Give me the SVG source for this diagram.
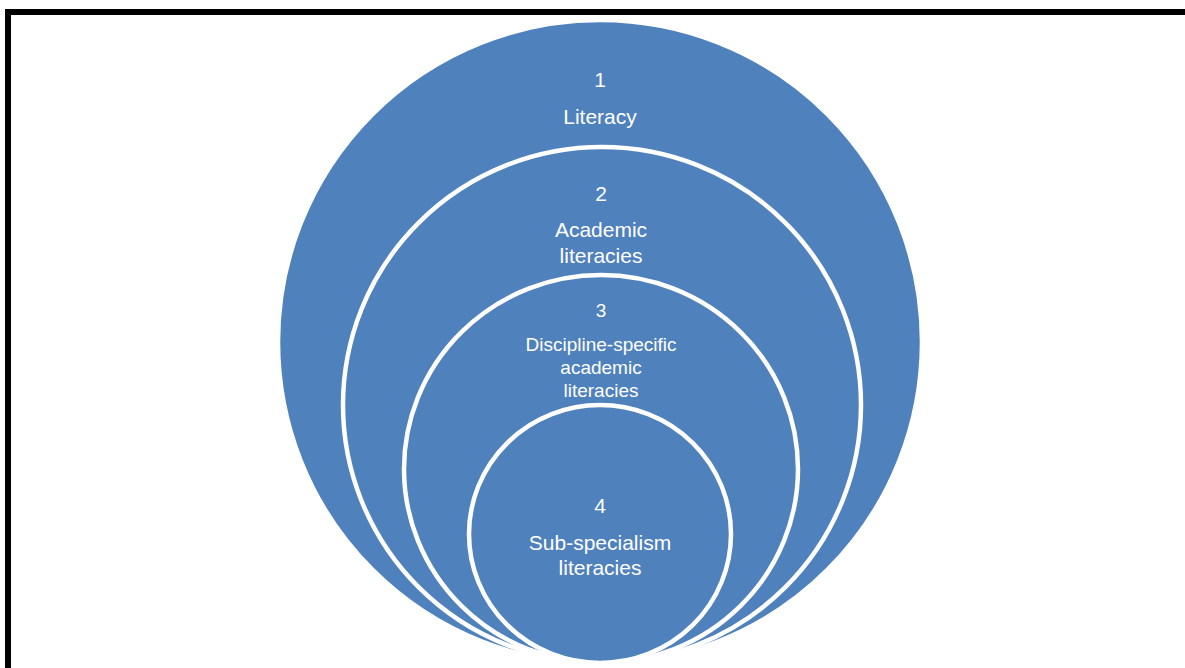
<svg xmlns="http://www.w3.org/2000/svg" width="1185" height="668" viewBox="0 0 1185 668">
  <style>
    .ring { fill: #4F81BD; stroke: #FFFFFF; stroke-width: 4.5; }
    .lbl { fill: #FFFFFF; font-family: "Liberation Sans", Arial, sans-serif; text-anchor: middle; }
    .big { font-size: 21px; }
    .mid { font-size: 19px; }
  </style>
  <rect width="1185" height="668" fill="#FFFFFF"/>
  <!-- page frame (top and left edges) -->
  <g id="frame" fill="#000000">
    <rect x="5" y="9" width="1180" height="6"/>
    <rect x="5" y="9" width="6" height="659"/>
  </g>
  <g id="connectors"/>
  <g id="node1">
    <circle class="ring" cx="600" cy="342" r="322"/>
    <text class="lbl big" x="600" y="87">1</text>
    <text class="lbl big" x="600" y="124">Literacy</text>
  </g>
  <g id="node2">
    <ellipse class="ring" cx="602" cy="405" rx="259" ry="258"/>
    <text class="lbl big" x="601" y="201">2</text>
    <text class="lbl big" x="601" y="237">Academic</text>
    <text class="lbl big" x="601" y="263">literacies</text>
  </g>
  <g id="node3">
    <ellipse class="ring" cx="601" cy="469" rx="197" ry="194"/>
    <text class="lbl mid" x="601" y="317">3</text>
    <text class="lbl mid" x="601" y="351">Discipline-specific</text>
    <text class="lbl mid" x="601" y="374">academic</text>
    <text class="lbl mid" x="601" y="397">literacies</text>
  </g>
  <g id="node4">
    <ellipse class="ring" cx="600" cy="534" rx="131" ry="129"/>
    <text class="lbl big" x="600" y="513">4</text>
    <text class="lbl big" x="600" y="550">Sub-specialism</text>
    <text class="lbl big" x="600" y="575">literacies</text>
  </g>
</svg>
